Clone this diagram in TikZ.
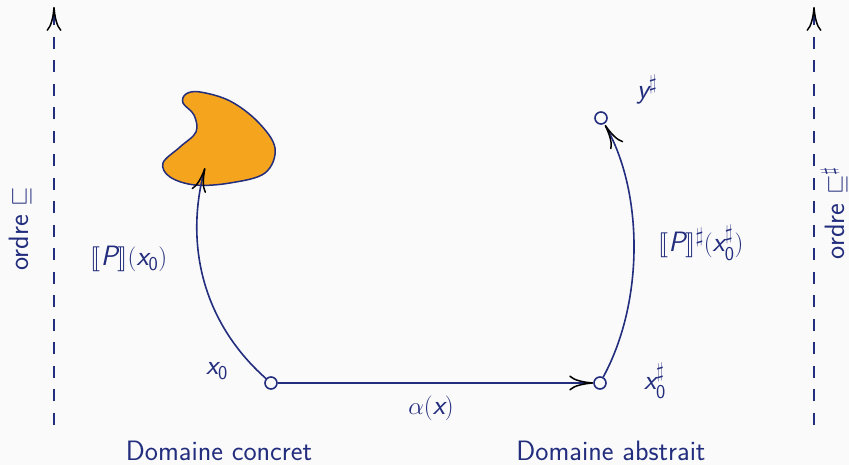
\documentclass[tikz,border=0pt]{standalone}
\usepackage{amsmath,amssymb,stmaryrd}
\usetikzlibrary{arrows.meta,bending}
\definecolor{navy}{RGB}{34,45,125}
\definecolor{bgc}{RGB}{250,250,250}
\definecolor{blob}{RGB}{245,164,29}
\newcommand\iv[1]{\text{\itshape #1}}
\begin{document}
\begin{tikzpicture}[x=1pt,y=1pt,
  font=\fontsize{28}{33}\selectfont\sffamily,
  pt/.style={circle,draw=navy,line width=1.6pt,minimum size=12pt,inner sep=0pt,fill=bgc},
  lbl/.style={text=navy,inner sep=1pt},
  tip/.style={-{Computer Modern Rightarrow[length=24pt,width=15pt,line width=1.5pt,black]}},
  conn/.style={draw=navy,line width=1.6pt,tip},
  axis/.style={draw=navy,line width=2.2pt,dash pattern=on 12pt off 11.5pt,tip}]
\fill[bgc] (0,0) rectangle (849,465);
\useasboundingbox (0,0) rectangle (849,465);
% axes
\coordinate (la0) at (54,40); \coordinate (la1) at (54,458);
\coordinate (ra0) at (814,40); \coordinate (ra1) at (814,458);
\draw[axis] (la0) -- (la1);
\draw[axis] (ra0) -- (ra1);
\node[lbl,rotate=90] (ol) at (20,236) {ordre $\sqsubseteq$};
\node[lbl,rotate=90] (or) at (834,252) {ordre $\sqsubseteq^\sharp$};
% blob
\filldraw[fill=blob,draw=navy,line width=1.5pt]
  plot[smooth cycle,tension=0.6] coordinates {(200,373) (230,364) (258,343) (275,317) (265,292) (230,282) (195,280) (170,288) (163,302) (180,318) (196,333) (194,350) (183,362) (186,371)};
% points
\node[pt] (x0) at (271,82) {};
\node[pt] (x0s) at (600,82) {};
\node[pt] (ys) at (601,347) {};
\coordinate (bt) at (205,297);
\coordinate (yt) at (605,340);
% connectors
\draw[conn] (x0) -- (x0s);
\draw[conn] (x0) .. controls (200,145) and (185,225) .. (bt);
\draw[conn] (x0s) .. controls (645,165) and (643,275) .. (yt);
% labels
\node[lbl] (lx0) at (217,94) {$\iv{x}_{\text{0}}$};
\node[lbl] (lx0s) at (655,84) {$\iv{x}^\sharp_{\text{0}}$};
\node[lbl] (lys) at (647,375) {$\iv{y}^\sharp$};
\node[lbl] (lal) at (431,57) {$\alpha(\iv{x})$};
\node[lbl] (lp) at (129,206) {$\llbracket \iv{P}\rrbracket(\iv{x}_{\text{0}})$};
\node[lbl] (lps) at (701,222) {$\llbracket \iv{P}\rrbracket^\sharp(\iv{x}^\sharp_{\text{0}})$};
\node[lbl] (dc) at (219,14) {Domaine concret};
\node[lbl] (da) at (611,14) {Domaine abstrait};
\end{tikzpicture}
\end{document}
